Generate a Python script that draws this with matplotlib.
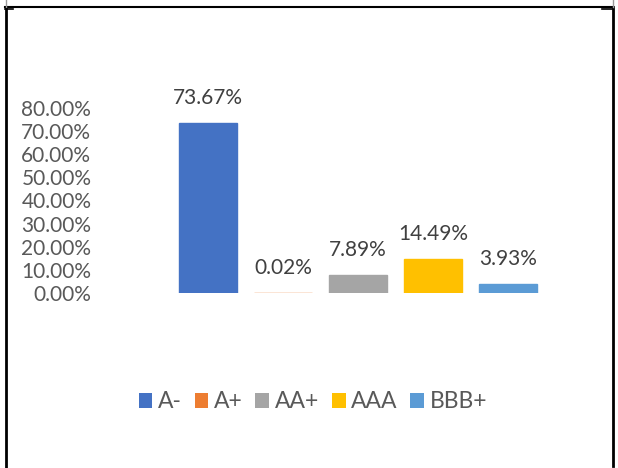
import matplotlib
matplotlib.use("Agg")
import matplotlib.pyplot as plt
from matplotlib.patches import Patch
from matplotlib.lines import Line2D
import numpy as np

categories = ["A-", "A+", "AA+", "AAA", "BBB+"]
values = [73.67, 0.02, 7.89, 14.49, 3.93]
colors = ["#4472C4", "#ED7D31", "#A5A5A5", "#FFC000", "#5B9BD5"]
yticks = [0, 10, 20, 30, 40, 50, 60, 70, 80]

plt.rcParams['font.family'] = ['Lato', 'DejaVu Sans']

W, H = 618, 468
fig = plt.figure(figsize=(W / 100, H / 100), dpi=100)

# axes placement in pixels
x0, x1 = 170.5, 545.5
y0, y1 = 293, 108
ax = fig.add_axes([x0 / W, (H - y0) / H, (x1 - x0) / W, (y0 - y1) / H])

x = np.arange(len(categories))
ax.bar(x, values, width=0.78, color=colors, edgecolor=colors, linewidth=1.0)
ax.set_xlim(-0.5, len(categories) - 0.5)
ax.set_ylim(0, 80)
ax.set_yticks(yticks)
ax.set_yticklabels([f"{v:.2f}%" for v in yticks], color="#595959", fontsize=15)
ax.tick_params(axis='y', length=0, pad=57)
ax.set_xticks([])
for s in ax.spines.values():
    s.set_visible(False)

for xi, v in zip(x, values):
    ax.annotate(f"{v:.2f}%", (xi, v), xytext=(0, 18), textcoords="offset points",
                ha="center", va="center", color="#404040", fontsize=15)

handles = [Patch(facecolor=c, edgecolor='none') for c in colors]
fig.legend(handles, categories, loc="center", bbox_to_anchor=(313 / W, 1 - 402 / H),
           ncol=5, frameon=False, fontsize=16.5, handlelength=0.6, handleheight=0.6,
           handletextpad=0.25, columnspacing=0.55, labelcolor="#595959")

# sheet borders
def px(xp, yp):
    return xp / W, 1 - yp / H

for (xa, ya), (xb, yb), lw, c in [
    ((5.5, 7), (5.5, 468), 2.0, "black"),
    ((5, 7), (613, 7), 1.5, "black"),
    ((612.5, 7), (612.5, 466), 2.0, "black"),
    ((5.5, 0), (5.5, 7), 1.0, "#999999"),
    ((612.5, 0), (612.5, 7), 1.0, "#999999"),
    ((5, 8.5), (13, 8.5), 1.2, "black"),
    ((602, 8.5), (612, 8.5), 1.2, "black"),
]:
    xa_, ya_ = px(xa, ya)
    xb_, yb_ = px(xb, yb)
    fig.add_artist(Line2D([xa_, xb_], [ya_, yb_], color=c, lw=lw, transform=fig.transFigure))

# clipped title descender (title text lies above the visible area)
fig.text(406 / W, 1 + 6 / H, "g", ha="center", va="baseline", fontsize=16,
         fontweight="bold", color="black")

fig.savefig("out.png", dpi=100, facecolor="white")
